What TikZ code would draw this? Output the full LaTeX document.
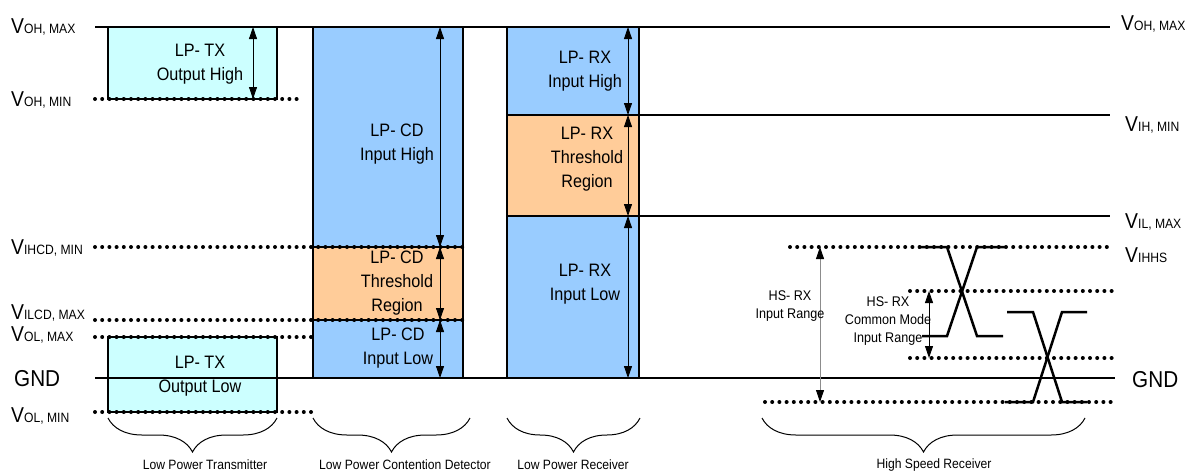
\documentclass[tikz,border=0pt]{standalone}
\usepackage{fontspec}
\setmainfont[FakeStretch=0.9]{Liberation Sans}
\usetikzlibrary{arrows.meta,decorations.pathreplacing}
\definecolor{txc}{HTML}{CCFFFF}
\definecolor{bluc}{HTML}{99CCFF}
\definecolor{orc}{HTML}{FFCC99}
\newcommand{\vlab}[1]{{\fontsize{21.5}{21.5}\selectfont V}{\fontsize{13.5}{13.5}\selectfont #1}}
\begin{document}
\begin{tikzpicture}[x=1pt,y=-1pt,
  solidl/.style={line width=2.8pt},
  dotl/.style={line width=4pt, line cap=round, dash pattern=on 0pt off 7.2pt},
  boxs/.style={draw, line width=2.5pt},
  wave/.style={line width=2.5pt},
  dim/.style={line width=0.8pt, {Triangle[length=12pt,width=8pt]}-{Triangle[length=12pt,width=8pt]}},
  dimg/.style={line width=0.8pt, draw=black!45, {Triangle[length=12pt,width=8pt,color=black]}-{Triangle[length=12pt,width=8pt,color=black]}},
  btxt/.style={font=\fontsize{18}{24}\selectfont, align=center, inner sep=0pt},
  htxt/.style={font=\fontsize{14}{18}\selectfont, align=center, inner sep=0pt},
  brlab/.style={font=\fontsize{13.5}{16}\selectfont, inner sep=0pt},
  brc/.style={decorate, decoration={brace, mirror, amplitude=34pt}, line width=1pt},
  lab/.style={anchor=base west, inner sep=0pt}
]
\useasboundingbox (0,0) rectangle (1193,474);
% fills
\fill[txc] (108,27) rectangle (277,99);
\fill[txc] (108,337) rectangle (277,412);
\fill[bluc] (313,27) rectangle (463,247);
\fill[orc] (313,247) rectangle (463,320);
\fill[bluc] (313,320) rectangle (463,378);
\fill[bluc] (507,27) rectangle (639,115);
\fill[orc] (507,115) rectangle (639,216);
\fill[bluc] (507,216) rectangle (639,378);
% box outlines
\draw[boxs] (108,27) rectangle (277,99);
\draw[boxs] (108,337) rectangle (277,412);
\draw[boxs] (313,27) rectangle (463,378);
\draw[boxs] (313,247) -- (463,247);
\draw[boxs] (313,320) -- (463,320);
\draw[boxs] (507,27) rectangle (639,378);
\draw[boxs] (507,115) -- (639,115);
\draw[boxs] (507,216) -- (639,216);
% level lines
\draw[solidl] (95,27) -- (1110,27);
\draw[solidl] (639,115) -- (1110,115);
\draw[solidl] (639,216) -- (1110,216);
\draw[solidl] (95,378) -- (1115,378);
\draw[dotl] (95,99) -- (303,99);
\draw[dotl] (95,247) -- (463,247);
\draw[dotl] (95,320) -- (463,320);
\draw[dotl] (95,337) -- (311,337);
\draw[dotl] (95,412) -- (311,412);
\draw[dotl] (790,247) -- (1112,247);
\draw[dotl] (910,291) -- (1115,291);
\draw[dotl] (910,358) -- (1115,358);
\draw[dotl] (765,402) -- (1115,402);
% waveforms
\draw[wave] (918,247) -- (947,247) -- (977,336) -- (1003,336);
\draw[wave] (922,336) -- (947,336) -- (977,247) -- (1005,247);
\draw[wave] (1007,312) -- (1033,312) -- (1062,402) -- (1087,402);
\draw[wave] (1005,402) -- (1033,402) -- (1062,312) -- (1087,312);
% dimension coordinates
\coordinate (t1) at (253,27); \coordinate (t2) at (253,99);
\coordinate (c1) at (440,27); \coordinate (c2) at (440,247);
\coordinate (c3) at (440,320); \coordinate (c4) at (440,378);
\coordinate (r1) at (628,27); \coordinate (r2) at (628,115);
\coordinate (r3) at (628,216); \coordinate (r4) at (628,378);
\coordinate (h1) at (820,247); \coordinate (h2) at (820,402);
\coordinate (m1) at (929,291); \coordinate (m2) at (929,358);
\draw[dim] (t1) -- (t2);
\draw[dim] (c1) -- (c2);
\draw[dim] (c2) -- (c3);
\draw[dim] (c3) -- (c4);
\draw[dim] (r1) -- (r2);
\draw[dim] (r2) -- (r3);
\draw[dim] (r3) -- (r4);
\draw[dimg] (h1) -- (h2);
\draw[dim] (m1) -- (m2);
% box texts
\node[btxt] (txh) at (200,64) {LP- TX\\Output High};
\node[btxt] (txl) at (200,376) {LP- TX\\Output Low};
\node[btxt] (cdh) at (397,144) {LP- CD\\Input High};
\node[btxt] (cdt) at (397,283) {LP- CD\\Threshold\\Region};
\node[btxt] (cdl) at (398,348) {LP- CD\\Input Low};
\node[btxt] (rxh) at (585,71) {LP- RX\\Input High};
\node[btxt] (rxt) at (587,159) {LP- RX\\Threshold\\Region};
\node[btxt] (rxl) at (585,284) {LP- RX\\Input Low};
\node[htxt] (hsr) at (790,306) {HS- RX\\Input Range};
\node[htxt] (hscm) at (888,321) {HS- RX\\Common Mode\\Input Range};
% left labels
\node[lab] (l1) at (11,33) {\vlab{OH, MAX}};
\node[lab] (l2) at (11,106) {\vlab{OH, MIN}};
\node[lab] (l3) at (11,254) {\vlab{IHCD, MIN}};
\node[lab] (l4) at (11,319) {\vlab{ILCD, MAX}};
\node[lab] (l5) at (11,341) {\vlab{OL, MAX}};
\node[lab, font=\fontsize{23}{23}\selectfont] (l6) at (14,386) {GND};
\node[lab] (l7) at (11,422) {\vlab{OL, MIN}};
% right labels
\node[lab] (r1l) at (1121,30) {\vlab{OH, MAX}};
\node[lab] (r2l) at (1125,131) {\vlab{IH, MIN}};
\node[lab] (r3l) at (1125,228) {\vlab{IL, MAX}};
\node[lab] (r4l) at (1125,262) {\vlab{IHHS}};
\node[lab, font=\fontsize{23}{23}\selectfont] (r5l) at (1132,387) {GND};
% braces
\coordinate (b1a) at (108,418); \coordinate (b1b) at (277,418);
\coordinate (b2a) at (313,418); \coordinate (b2b) at (470,418);
\coordinate (b3a) at (507,418); \coordinate (b3b) at (640,418);
\coordinate (b4a) at (762,418); \coordinate (b4b) at (1085,418);
\draw[brc] (b1a) -- (b1b);
\draw[brc] (b2a) -- (b2b);
\draw[brc] (b3a) -- (b3b);
\draw[brc] (b4a) -- (b4b);
\node[brlab] (bl1) at (205,465) {Low Power Transmitter};
\node[brlab] (bl2) at (405,465) {Low Power Contention Detector};
\node[brlab] (bl3) at (573,465) {Low Power Receiver};
\node[brlab] (bl4) at (934,465) {High Speed Receiver};
\end{tikzpicture}
\end{document}
